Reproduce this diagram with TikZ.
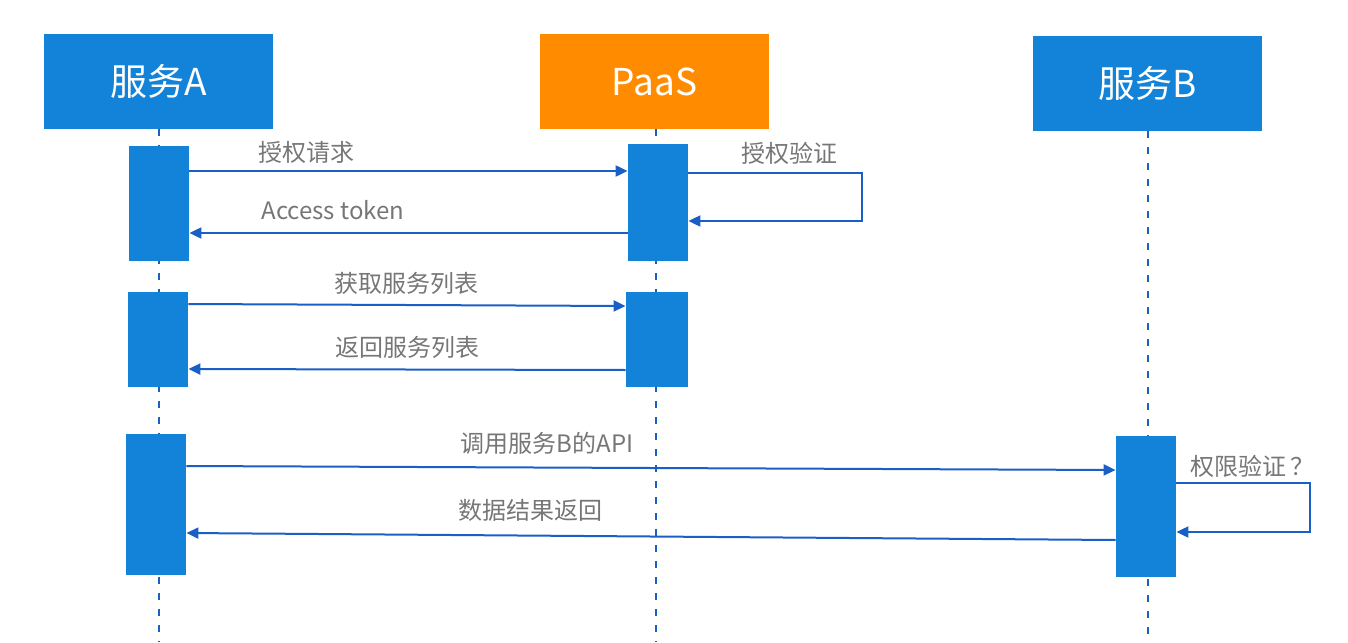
\documentclass[tikz,border=0pt]{standalone}
\usepackage{fontspec}
\setmainfont{Noto Sans CJK SC}
\usetikzlibrary{arrows.meta}
\definecolor{boxblue}{HTML}{1283D8}
\definecolor{paasorange}{HTML}{FF8C00}
\definecolor{lineblue}{HTML}{1A5FC6}
\definecolor{labelgray}{HTML}{767676}

\begin{document}
\begin{tikzpicture}[
  x=0.5pt, y=-0.5pt,
  head/.style={fill=#1, text=white, minimum width=114.5pt, minimum height=47.5pt, inner sep=0pt, font=\fontsize{18.5}{20}\selectfont},
  act/.style={fill=boxblue, minimum width=30pt, inner sep=0pt},
  life/.style={draw=lineblue, line width=1pt, dash pattern=on 3.5pt off 4.5pt},
  msg/.style={draw=lineblue, line width=1pt, -{Triangle[length=6pt, width=5.5pt]}},
  lbl/.style={text=labelgray, inner sep=0pt, font=\fontsize{12}{14}\selectfont}
]
  \useasboundingbox (0,0) rectangle (1348,642);

  % participants
  \node[head=boxblue] (hA) at (158.5,81.5) {服务A};
  \node[head=paasorange] (hP) at (654.5,81.5) {PaaS};
  \node[head=boxblue] (hB) at (1147.5,83.5) {服务B};

  % lifelines
  \coordinate (endA) at (159,642);
  \coordinate (endP) at (656,642);
  \coordinate (endB) at (1148,642);
  \draw[life] (hA.south -| endA) -- (endA);
  \draw[life] (hP.south -| endP) -- (endP);
  \draw[life] (hB.south -| endB) -- (endB);

  % activations
  \node[act, minimum height=57.5pt] (a1) at (159,203.5) {};
  \node[act, minimum height=58.5pt] (p1) at (658,202.5) {};
  \node[act, minimum height=47.5pt] (a2) at (158,339.5) {};
  \node[act, minimum height=47.5pt, minimum width=31pt] (p2) at (657,339.5) {};
  \node[act, minimum height=70.5pt] (a3) at (156,504.5) {};
  \node[act, minimum height=70.5pt] (b3) at (1146,506.5) {};

  % messages
  \draw[msg] (a1.east |- 0,171) -- (p1.west |- 0,171);
  \node[lbl] (m1) at (306,152) {授权请求};
  \draw[msg] (p1.west |- 0,233) -- (a1.east |- 0,233);
  \node[lbl] (m2) at (333,210) {Access token};
  \draw[msg] (p1.east |- 0,173) -- ++(174,0) |- (p1.east |- 0,221);
  \node[lbl] (m3) at (789,153) {授权验证};

  \draw[msg] (a2.east |- 0,304) -- (p2.west |- 0,306);
  \node[lbl] (m4) at (406,283) {获取服务列表};
  \draw[msg] (p2.west |- 0,370) -- (a2.east |- 0,369);
  \node[lbl] (m5) at (407,347) {返回服务列表};

  \draw[msg] (a3.east |- 0,466) -- (b3.west |- 0,470);
  \node[lbl] (m6) at (547,443) {调用服务B的API};
  \draw[msg] (b3.west |- 0,540) -- (a3.east |- 0,533);
  \node[lbl] (m7) at (530,510) {数据结果返回};
  \draw[msg] (b3.east |- 0,483) -- ++(134,0) |- (b3.east |- 0,532);
  \node[lbl] (m8) at (1252,466) {权限验证\,？};
\end{tikzpicture}
\end{document}
